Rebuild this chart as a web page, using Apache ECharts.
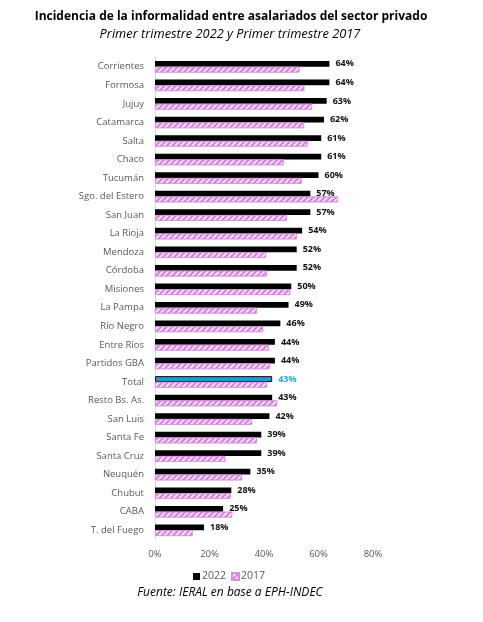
<!DOCTYPE html>
<html>
<head>
<meta charset="utf-8">
<script src="https://cdn.jsdelivr.net/npm/echarts@6/dist/echarts.min.js"></script>
<style>
  html, body { margin: 0; padding: 0; background: #fff; }
  #chart { width: 483px; height: 622px; }
</style>
</head>
<body>
<div id="chart"></div>
<script>
// provincias, de mayor a menor informalidad 2022
var provincias = ['Corrientes', 'Formosa', 'Jujuy', 'Catamarca', 'Salta', 'Chaco', 'Tucumán',
  'Sgo. del Estero', 'San Juan', 'La Rioja', 'Mendoza', 'Córdoba', 'Misiones', 'La Pampa',
  'Río Negro', 'Entre Ríos', 'Partidos GBA', 'Total', 'Resto Bs. As.', 'San Luis', 'Santa Fe',
  'Santa Cruz', 'Neuquén', 'Chubut', 'CABA', 'T. del Fuego'];
var valores2022 = [64, 64, 63, 62, 61, 61, 60, 57, 57, 54, 52, 52, 50, 49, 46, 44, 44, 43, 43, 42, 39, 39, 35, 28, 25, 18];
var valores2017 = [53, 54.8, 57.6, 54.7, 56, 47.2, 53.8, 67.1, 48.4, 52.1, 40.7, 41.1, 49.6, 37.4,
  39.6, 41.7, 42.1, 41.1, 44.8, 35.6, 37.4, 25.8, 31.9, 27.7, 28.3, 13.8];
var ticksX = [0, 20, 40, 60, 80];

var gris = '#595959';
var azul = '#1ba1d8';

var datos2022 = valores2022.map(function (v, i) {
  if (provincias[i] == 'Total') {
    return {
      value: v,
      itemStyle: { color: azul, borderColor: '#000', borderWidth: 1 },
      label: { color: '#29abe2' }
    };
  }
  return v;
});

var chart = echarts.init(document.getElementById('chart'));
var option = {
  animation: false,
  title: [
    {
      text: 'Incidencia de la informalidad entre asalariados del sector privado',
      left: 226, top: 6, textAlign: 'center',
      textStyle: { fontFamily: 'Open Sans', fontSize: 12, fontWeight: 'bold', color: '#000' }
    },
    {
      text: 'Primer trimestre 2022 y Primer trimestre 2017',
      left: 225, top: 23, textAlign: 'center',
      textStyle: { fontFamily: 'Open Sans', fontSize: 12.8, fontStyle: 'italic', fontWeight: 'normal', color: '#000' }
    },
    {
      text: 'Fuente: IERAL en base a EPH-INDEC',
      left: 225, top: 582, textAlign: 'center',
      textStyle: { fontFamily: 'Open Sans', fontSize: 12, fontStyle: 'italic', fontWeight: 'normal', color: '#000' }
    }
  ],
  legend: {
    left: 188, top: 566,
    itemWidth: 7, itemHeight: 7, itemGap: 5,
    icon: 'rect',
    textStyle: { fontFamily: 'Open Sans', fontSize: 10.5, color: gris, padding: [0, 0, 0, -3] },
    data: ['2022', '2017']
  },
  grid: { left: 155, right: 110, top: 57.5, bottom: 82.5 },
  xAxis: {
    type: 'value',
    min: 0, max: 80, interval: 20,
    splitLine: { show: false },
    axisLine: { show: false },
    axisTick: { show: false },
    axisLabel: {
      color: gris, fontFamily: 'Open Sans', fontSize: 9.5, margin: 10,
      customValues: ticksX,
      formatter: function (v) { return v + '%'; }
    }
  },
  yAxis: {
    type: 'category',
    inverse: true,
    data: provincias,
    axisLine: { show: true, lineStyle: { color: '#d9d9d9' } },
    axisTick: { show: false },
    axisLabel: { color: gris, fontFamily: 'Open Sans', fontSize: 9.5, margin: 11 }
  },
  series: [
    {
      name: '2022',
      type: 'bar',
      data: datos2022,
      barGap: '0%',
      barCategoryGap: '38%',
      itemStyle: { color: '#000' },
      label: {
        show: true, position: 'right', distance: 6,
        fontFamily: 'Open Sans', fontSize: 9, fontWeight: 'bold', color: '#111',
        formatter: function (p) { return Math.round(p.value) + '%'; }
      }
    },
    {
      name: '2017',
      type: 'bar',
      data: valores2017,
      itemStyle: {
        color: '#fbe6fb',
        borderColor: '#d78be0',
        borderWidth: 0.6,
        decal: {
          symbol: 'rect',
          symbolSize: 1,
          color: '#d47ee0',
          dashArrayX: [1, 0],
          dashArrayY: [1.5, 2],
          rotation: -Math.PI / 4
        }
      }
    }
  ]
};
chart.setOption(option);
</script>
</body>
</html>
